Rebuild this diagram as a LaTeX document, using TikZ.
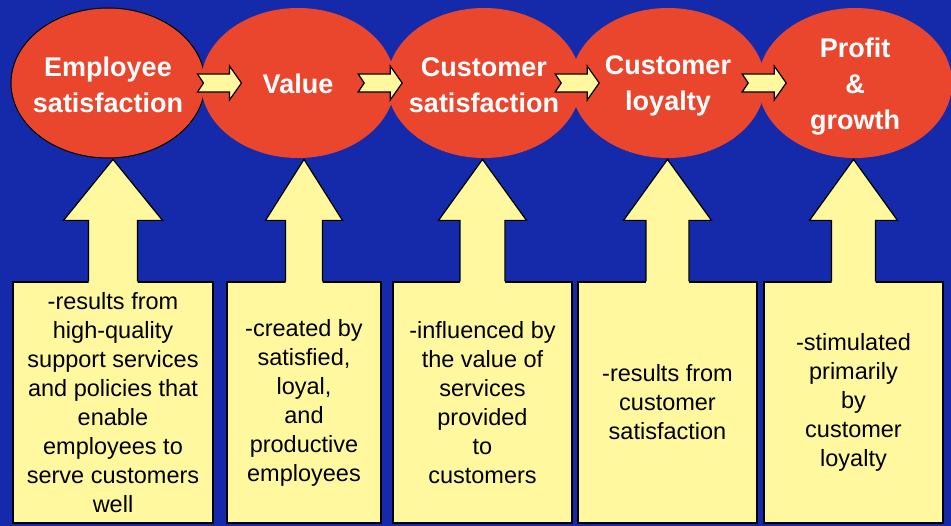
\documentclass[tikz,border=0pt]{standalone}
\usepackage{fontspec}
\setmainfont{Liberation Sans}
\usetikzlibrary{shapes.geometric,calc}

\definecolor{bgblue}{RGB}{20,42,170}
\definecolor{chainred}{RGB}{234,70,46}
\definecolor{noteyellow}{RGB}{255,248,158}

\tikzset{
  bubble/.style={ellipse, fill=chainred, minimum width=194pt, minimum height=150pt, inner sep=0pt},
  bubbletext/.style={text=white, font=\fontsize{27}{36}\selectfont\bfseries, align=center, inner sep=0pt},
  notebox/.style={rectangle, fill=noteyellow, draw=black, line width=1.2pt, minimum height=241pt, inner sep=0pt},
  notetext/.style={font=\fontsize{23.5}{29}\selectfont, align=center, inner sep=0pt},
  outline/.style={draw=black, line width=1.2pt, line join=miter},
  pics/chainarrow/.style={code={
    \draw[outline, fill=noteyellow] (0,-9) -- (32,-9) -- (32,-17) -- (44,0) -- (32,17) -- (32,9) -- (0,9) -- (6,0) -- cycle;
  }},
}

\begin{document}
\begin{tikzpicture}[x=1pt, y=-1pt]
  % background
  \fill[bgblue] (0,0) rectangle (951,526);
  \useasboundingbox (0,0) rectangle (951,526);

  % chain of stages
  \node[bubble, draw=black, line width=1pt] (e1) at (108,83) {};
  \node[bubble] (e2) at (298,83) {};
  \node[bubble] (e3) at (484,83) {};
  \node[bubble] (e4) at (668,83) {};
  \node[bubble] (e5) at (855,83) {};

  \node[bubbletext] (t1) at ($(e1.center)+(0,2)$) {Employee\\satisfaction};
  \node[bubbletext] (t2) at ($(e2.center)+(0,1)$) {Value};
  \node[bubbletext] (t3) at ($(e3.center)+(0,2)$) {Customer\\satisfaction};
  \node[bubbletext] (t4) at ($(e4.center)+(0,3)$) {Customer\\loyalty};
  \node[bubbletext] (t5) at ($(e5.center)+(0,4)$) {Profit\\\&\\growth};

  % links between stages
  \pic at ($(e1.east)+(-8,0)$) {chainarrow};
  \pic at ($(e2.east)+(-37,0)$) {chainarrow};
  \pic at ($(e3.east)+(-26,0)$) {chainarrow};
  \pic at ($(e4.east)+(-23,0)$) {chainarrow};

  % explanation boxes
  \node[notebox, minimum width=200pt] (b1) at (113,402.5) {};
  \node[notebox, minimum width=154pt] (b2) at (304,402.5) {};
  \node[notebox, minimum width=179pt] (b3) at (482.5,402.5) {};
  \node[notebox, minimum width=179pt] (b4) at (667.5,402.5) {};
  \node[notebox, minimum width=179pt] (b5) at (853.5,402.5) {};

  % upward arrows from each box to its stage
  \foreach \b/\hw/\sw in {b1/49.5/24.5, b2/38.5/18.5, b3/44/22.5, b4/44/21.5, b5/44/22} {
    \fill[noteyellow] ($(\b.north)+(-\sw,1.5)$) -- ++(0,-62.5) -- ++(\sw-\hw,0)
      -- ($(\b.north)+(0,-122)$) -- ($(\b.north)+(\hw,-61)$) -- ++(\sw-\hw,0)
      -- ++(0,62.5) -- cycle;
    \draw[outline] ($(\b.north)+(-\sw,0)$) -- ++(0,-61) -- ++(\sw-\hw,0)
      -- ($(\b.north)+(0,-122)$) -- ($(\b.north)+(\hw,-61)$) -- ++(\sw-\hw,0)
      -- ++(0,61);
  }

  \node[notetext] (n1) at (b1.center) {-results from\\high-quality\\support services\\and policies that\\enable\\employees to\\serve customers\\well};
  \node[notetext] (n2) at (b2.center) {-created by\\satisfied,\\loyal,\\and\\productive\\employees};
  \node[notetext] (n3) at (b3.center) {-influenced by\\the value of\\services\\provided\\to\\customers};
  \node[notetext] (n4) at (b4.center) {-results from\\customer\\satisfaction};
  \node[notetext] (n5) at (b5.center) {-stimulated\\primarily\\by\\customer\\loyalty};
\end{tikzpicture}
\end{document}
